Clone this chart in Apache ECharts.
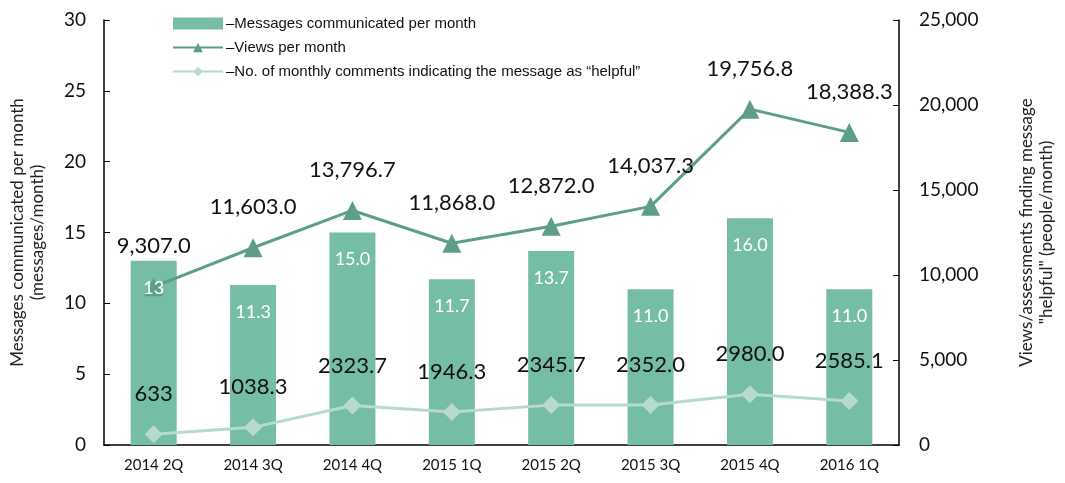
<!DOCTYPE html>
<html>
<head>
<meta charset="utf-8">
<script src="https://cdn.jsdelivr.net/npm/echarts@6/dist/echarts.min.js"></script>
<style>
  html, body { margin: 0; padding: 0; background: #fff; }
  #main { width: 1065px; height: 483px; }
</style>
</head>
<body>
<div id="main"></div>
<script>
  // quarters
  var categories = ['2014 2Q', '2014 3Q', '2014 4Q', '2015 1Q', '2015 2Q', '2015 3Q', '2015 4Q', '2016 1Q']
  // messages communicated per month (bars, left axis)
  var messages = [13, 11.3, 15.0, 11.7, 13.7, 11.0, 16.0, 11.0]
  var messageLabels = ['13', '11.3', '15.0', '11.7', '13.7', '11.0', '16.0', '11.0']
  // views per month (right axis)
  var views = [9307.0, 11603.0, 13796.7, 11868.0, 12872.0, 14037.3, 19756.8, 18388.3]
  // comments "helpful" (right axis)
  var helpful = [633, 1038.3, 2323.7, 1946.3, 2345.7, 2352.0, 2980.0, 2585.1]
  var helpfulLabels = ['633', '1038.3', '2323.7', '1946.3', '2345.7', '2352.0', '2980.0', '2585.1']

  var barColor = '#76BDA6'
  var viewsColor = '#5C9E88'
  var helpfulColor = '#B6DACC'
  var font = 'Lato'

  function fmtComma(v) {
    return v.toFixed(1).replace(/\B(?=(\d{3})+(?!\d))/, ',')
  }

  var chart = echarts.init(document.getElementById('main'))
  var option = {
    animation: false,
    textStyle: { fontFamily: font },
    legend: {
      left: 172,
      top: 16,
      orient: 'vertical',
      itemWidth: 50,
      itemHeight: 12,
      itemGap: 9,
      padding: 0,
      textStyle: { fontFamily: 'Liberation Sans', fontSize: 15, color: '#111', padding: [0, 0, 0, -2] },
      formatter: function (name) { return '\u2013' + name },
      data: [
        { name: 'Messages communicated per month', icon: 'rect' },
        { name: 'Views per month' },
        { name: 'No. of monthly comments indicating the message as \u201chelpful\u201d' }
      ]
    },
    grid: { left: 101, right: 155, top: 20, bottom: 38 },
    xAxis: {
      type: 'category',
      data: categories,
      axisLine: { lineStyle: { color: '#000', width: 1.5 } },
      axisTick: { inside: true, length: 5, lineStyle: { color: '#000' } },
      axisLabel: { color: '#111', fontSize: 15, margin: 13, fontFamily: font }
    },
    yAxis: [
      {
        type: 'value',
        min: 0,
        max: 30,
        interval: 5,
        name: 'Messages communicated per month\n(messages/month)',
        nameLocation: 'middle',
        nameGap: 56,
        nameTextStyle: { fontSize: 17, color: '#222', lineHeight: 20, fontFamily: font },
        axisLine: { show: true, lineStyle: { color: '#000', width: 1.5 } },
        axisTick: { show: true, inside: true, length: 6, lineStyle: { color: '#000' } },
        axisLabel: { color: '#111', fontSize: 19, margin: 18 },
        splitLine: { show: false }
      },
      {
        type: 'value',
        min: 0,
        max: 25000,
        interval: 5000,
        name: 'Views/assessments finding message\n"helpful" (people/month)',
        nameLocation: 'middle',
        nameGap: 118,
        nameRotate: 90,
        nameTextStyle: { fontSize: 17, color: '#222', lineHeight: 20, fontFamily: font },
        axisLine: { show: true, lineStyle: { color: '#000', width: 1.5 } },
        axisTick: { show: true, inside: true, length: 6, lineStyle: { color: '#000' } },
        axisLabel: {
          color: '#111', fontSize: 19, margin: 20,
          formatter: function (v) { return v.toLocaleString('en-US') }
        },
        splitLine: { show: false }
      }
    ],
    series: [
      {
        name: 'Messages communicated per month',
        type: 'bar',
        data: messages,
        barWidth: 46,
        itemStyle: { color: barColor },
        z: 1
      },
      {
        // transparent overlay so bar value labels sit above the lines
        type: 'bar',
        data: messages,
        barWidth: 46,
        barGap: '-100%',
        silent: true,
        itemStyle: { color: 'rgba(0,0,0,0)' },
        label: {
          show: true,
          position: 'insideTop',
          distance: 18,
          color: '#fff',
          fontSize: 18,
          formatter: function (p) { return messageLabels[p.dataIndex] }
        },
        z: 5
      },
      {
        name: 'Views per month',
        type: 'line',
        yAxisIndex: 1,
        data: views,
        symbol: 'triangle',
        symbolSize: 19,
        lineStyle: { color: viewsColor, width: 3 },
        itemStyle: { color: viewsColor },
        label: {
          show: true,
          position: 'top',
          distance: 20,
          color: '#111',
          fontSize: 22,
          formatter: function (p) { return fmtComma(p.value) }
        },
        z: 3
      },
      {
        name: 'No. of monthly comments indicating the message as \u201chelpful\u201d',
        type: 'line',
        yAxisIndex: 1,
        data: helpful,
        symbol: 'diamond',
        symbolSize: 18,
        lineStyle: { color: helpfulColor, width: 3 },
        itemStyle: { color: helpfulColor },
        label: {
          show: true,
          position: 'top',
          distance: 20,
          color: '#111',
          fontSize: 22,
          formatter: function (p) { return helpfulLabels[p.dataIndex] }
        },
        z: 2
      }
    ]
  }
  chart.setOption(option)
</script>
</body>
</html>
